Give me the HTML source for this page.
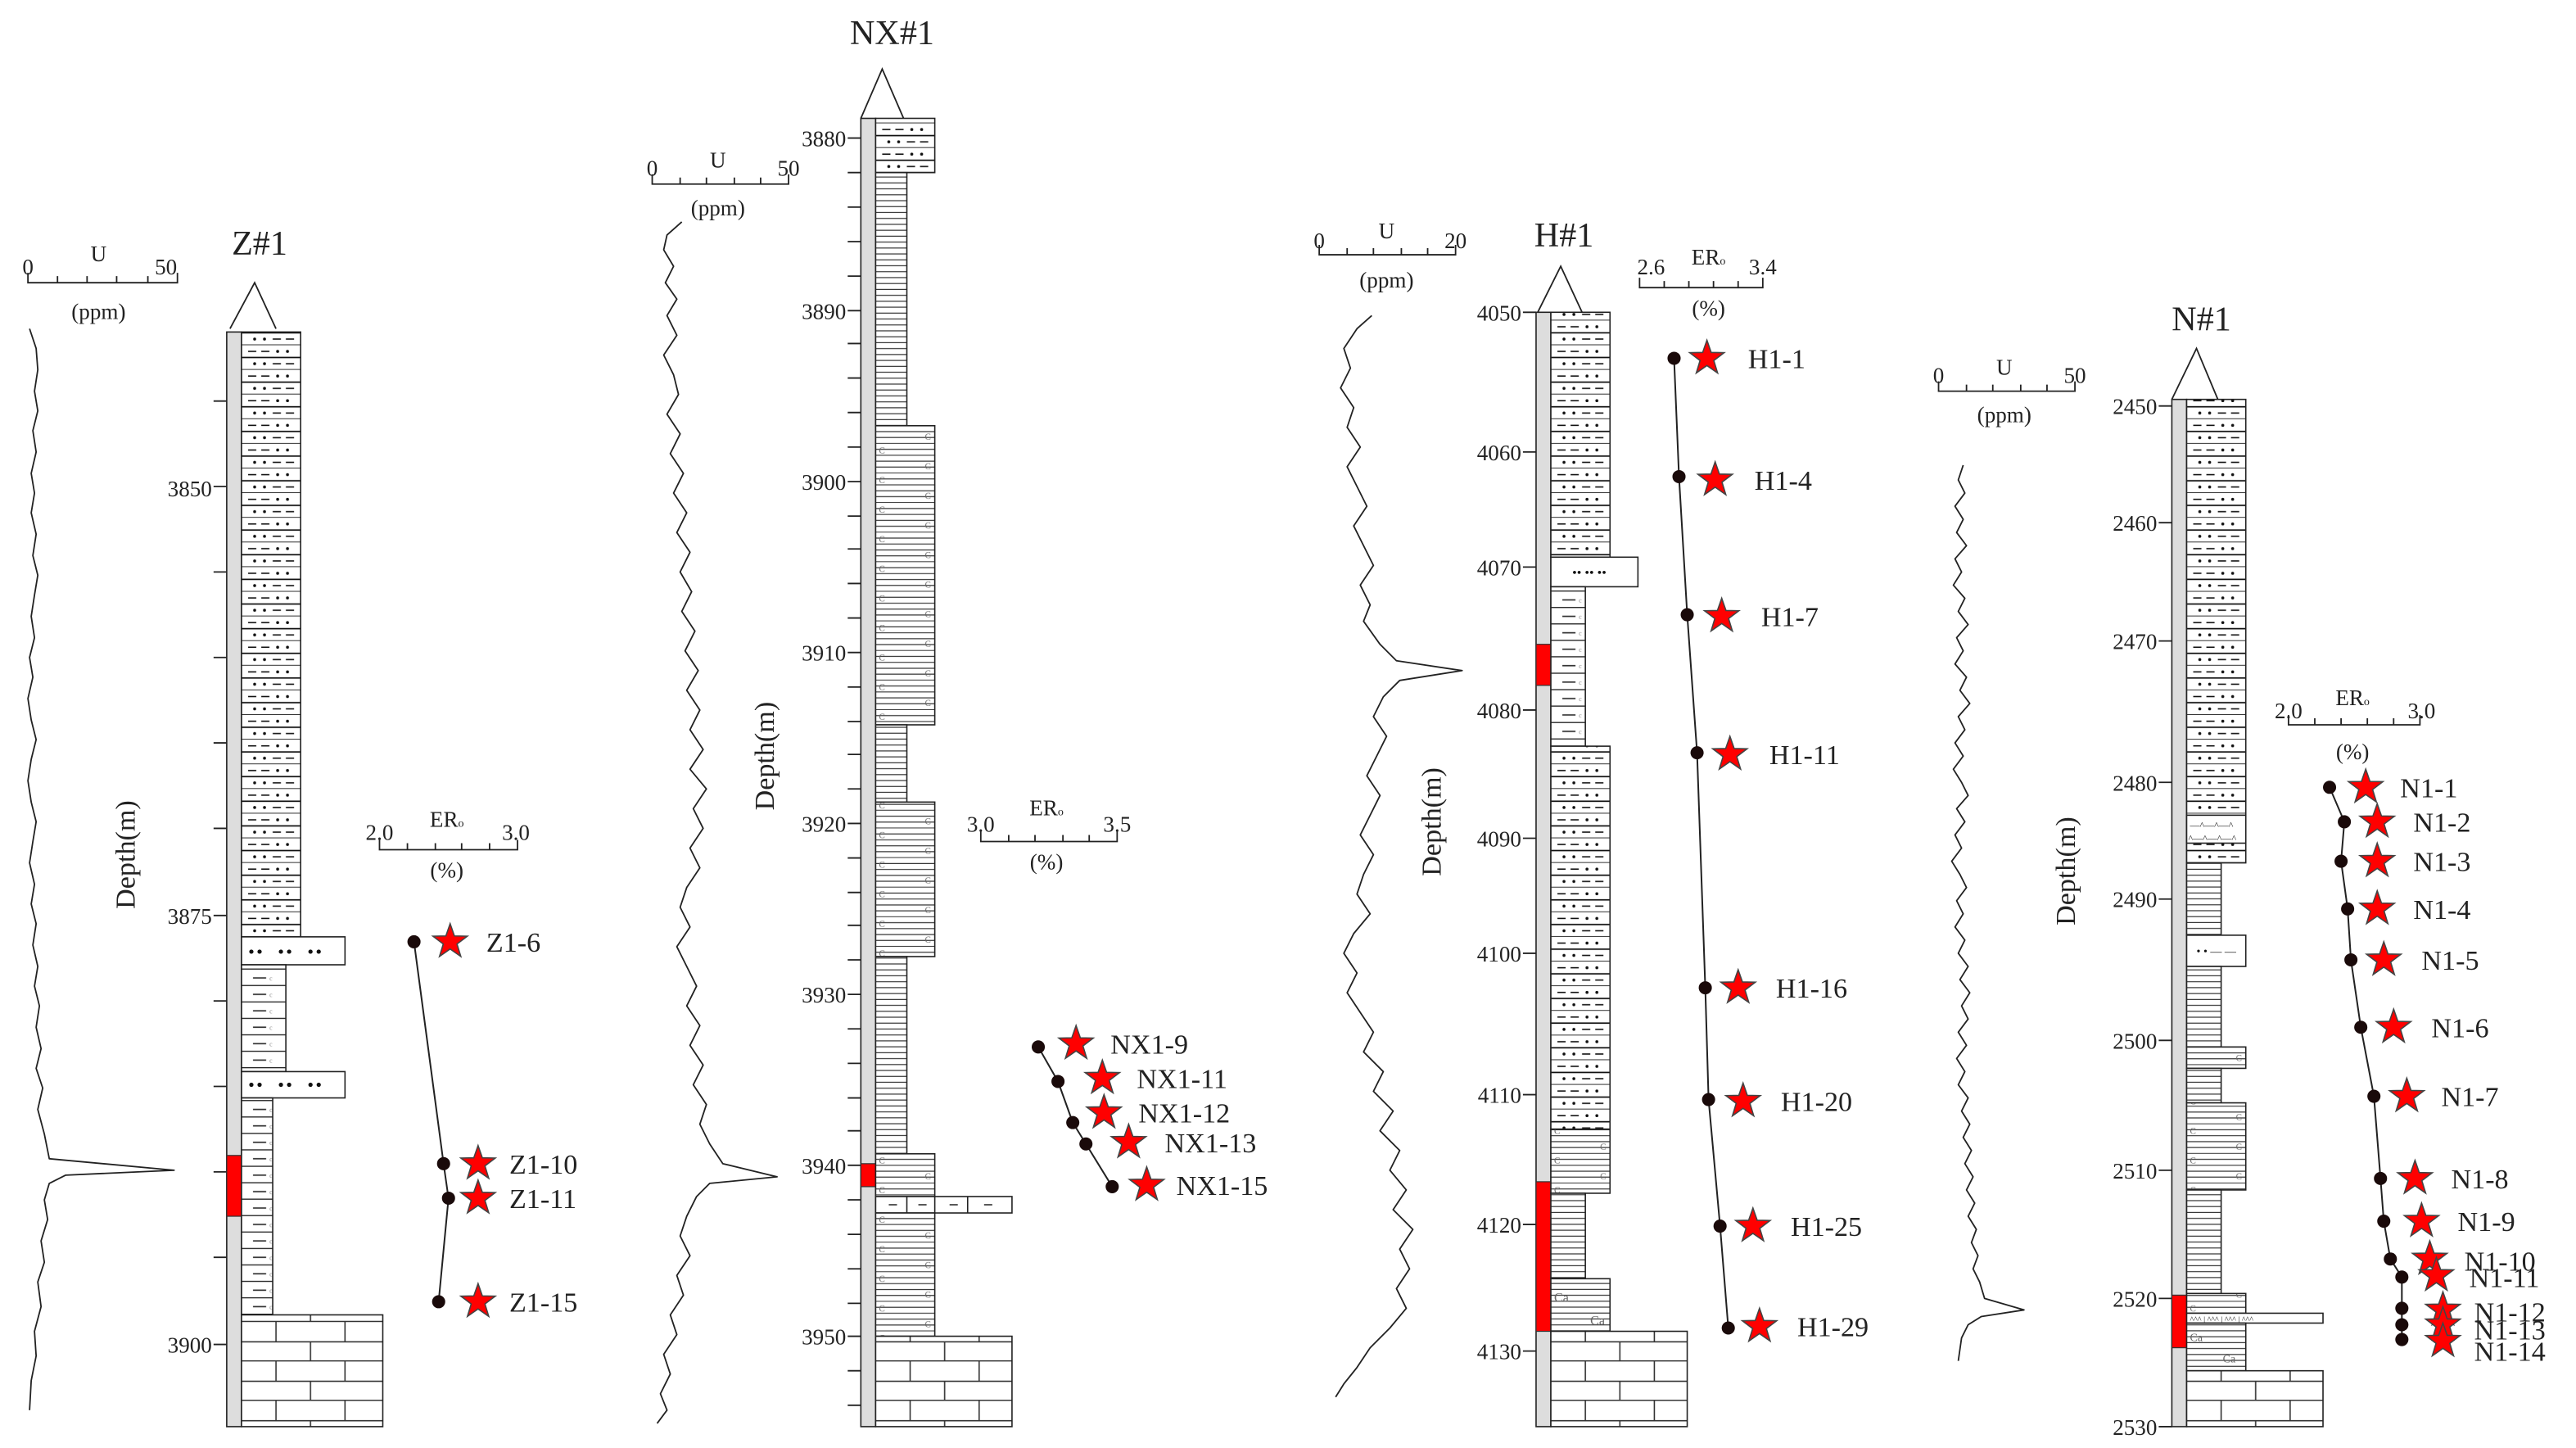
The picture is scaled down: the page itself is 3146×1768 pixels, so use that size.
<!DOCTYPE html>
<html><head><meta charset="utf-8"><style>html,body{margin:0;padding:0;background:#fff}svg{display:block}svg text{font-family:"Liberation Serif",serif}</style></head><body>
<svg xmlns="http://www.w3.org/2000/svg" xmlns:xlink="http://www.w3.org/1999/xlink" width="3146" height="1768" viewBox="0 0 1568 881" preserveAspectRatio="none" fill="#222">
<defs>
<pattern id="silt" width="36" height="15" patternUnits="userSpaceOnUse">
<rect width="36" height="15" fill="#fff"/>
<g stroke="#111" stroke-width="0.8"><line x1="0" y1="7.5" x2="36" y2="7.5"/><line x1="0" y1="15" x2="36" y2="15"/>
<line x1="4" y1="3.8" x2="9" y2="3.8"/><line x1="12" y1="3.8" x2="17" y2="3.8"/><line x1="19" y1="11.3" x2="24" y2="11.3"/><line x1="27" y1="11.3" x2="32" y2="11.3"/></g>
<circle cx="22" cy="3.8" r="0.9" fill="#111"/><circle cx="28" cy="3.8" r="0.9" fill="#111"/><circle cx="8" cy="11.3" r="0.9" fill="#111"/><circle cx="14" cy="11.3" r="0.9" fill="#111"/>
</pattern>
<pattern id="shale" width="40" height="3.6" patternUnits="userSpaceOnUse"><rect width="40" height="3.6" fill="#fff"/><line x1="0" y1="3.3" x2="40" y2="3.3" stroke="#333" stroke-width="0.6"/></pattern>
<pattern id="shaled" width="40" height="10" patternUnits="userSpaceOnUse"><rect width="40" height="10" fill="#fff"/><line x1="0" y1="9.6" x2="40" y2="9.6" stroke="#222" stroke-width="0.7"/><line x1="7" y1="5" x2="15" y2="5" stroke="#333" stroke-width="0.8"/><text x="17" y="6.5" font-size="4" fill="#888">c</text></pattern>
<pattern id="cshale" width="36" height="18" patternUnits="userSpaceOnUse"><rect width="36" height="18" fill="#fff"/><g stroke="#333" stroke-width="0.6"><line x1="0" y1="3.4" x2="36" y2="3.4"/><line x1="0" y1="7" x2="36" y2="7"/><line x1="0" y1="10.6" x2="36" y2="10.6"/><line x1="0" y1="14.2" x2="36" y2="14.2"/><line x1="0" y1="17.8" x2="36" y2="17.8"/></g><text x="2" y="6" font-size="5.5" fill="#666">C</text><text x="30" y="15.5" font-size="5.5" fill="#666">C</text></pattern>
<pattern id="lime" width="84" height="24" patternUnits="userSpaceOnUse"><rect width="84" height="24" fill="#fff"/><g stroke="#333" stroke-width="0.8"><line x1="0" y1="0.4" x2="84" y2="0.4"/><line x1="0" y1="12" x2="84" y2="12"/><line x1="42" y1="0" x2="42" y2="12"/><line x1="21" y1="12" x2="21" y2="24"/><line x1="63" y1="12" x2="63" y2="24"/></g></pattern>
<path id="st" d="M0,-11 L2.59,-3.56 L10.46,-3.4 L4.18,1.36 L6.47,8.9 L0,4.4 L-6.47,8.9 L-4.18,1.36 L-10.46,-3.4 L-2.59,-3.56Z" fill="#f00" stroke="#444" stroke-width="0.8"/>
</defs>

<g stroke="#222" stroke-width="0.9" fill="none">
<path d="M17,166 V172 H108 V166 M35,168 V172 M53,168 V172 M71,168 V172 M90,168 V172"/>
<path d="M397,106 V112 H480 V106 M414,108 V112 M430,108 V112 M447,108 V112 M463,108 V112"/>
<path d="M803,149 V155 H886 V149 M820,151 V155 M836,151 V155 M853,151 V155 M869,151 V155"/>
<path d="M1180,232 V238 H1263 V232 M1197,234 V238 M1213,234 V238 M1230,234 V238 M1246,234 V238"/>
<path d="M231,511 V517 H315 V511 M248,513 V517 M265,513 V517 M281,513 V517 M298,513 V517"/>
<path d="M597,506 V512 H680 V506 M614,508 V512 M630,508 V512 M647,508 V512 M663,508 V512"/>
<path d="M998,169 V175 H1073 V169 M1013,171 V175 M1028,171 V175 M1043,171 V175 M1058,171 V175"/>
<path d="M1393,435 V441 H1473 V435 M1409,437 V441 M1425,437 V441 M1441,437 V441 M1457,437 V441"/>
<g stroke-linejoin="round">
<polyline points="18,200 22,212 23,225 21,238 23,250 20,262 22,275 19,288 21,300 19,312 22,325 20,338 23,350 21,362 19,375 21,388 18,400 20,412 17,425 19,438 22,450 19,462 17,475 19,488 22,500 20,512 18,525 21,538 19,550 22,562 20,575 23,588 21,600 24,612 22,625 25,638 22,650 26,662 23,675 27,690 30,705 106,712 40,715 30,720 27,730 29,742 25,755 27,768 23,780 25,795 21,810 22,825 19,840 18,858"/>
<polyline points="415,135 406,143 404,152 410,162 405,172 412,182 406,192 412,204 404,216 410,228 413,240 406,252 414,264 408,276 416,288 410,300 418,312 412,324 420,336 414,348 421,360 415,372 423,384 417,396 425,408 418,420 426,432 420,444 428,456 420,468 430,480 422,492 428,504 420,516 426,528 418,540 414,552 420,564 412,576 418,588 424,600 418,612 426,624 420,636 428,648 422,660 430,672 426,684 432,696 440,708 473,716 432,720 424,728 418,740 414,752 420,764 412,776 416,788 408,800 412,812 404,824 408,836 402,848 406,858 400,866"/>
<polyline points="835,192 826,200 818,212 822,224 816,236 824,248 820,260 828,272 820,284 826,296 832,308 824,320 830,332 836,344 828,356 834,368 830,378 840,392 850,402 890,408 852,414 842,424 836,436 844,448 838,460 832,472 840,484 834,496 828,508 836,520 830,532 826,544 834,556 824,568 818,580 826,592 820,604 828,616 836,628 830,640 842,652 836,664 848,676 840,688 852,700 846,712 856,724 848,736 860,748 852,760 858,772 850,784 856,796 846,808 834,820 826,832 818,842 813,850"/>
<polyline points="1195,283 1192,292 1196,300 1190,308 1195,316 1191,324 1197,332 1190,340 1194,348 1189,356 1196,364 1192,372 1198,380 1191,388 1195,396 1190,404 1197,412 1193,420 1199,428 1192,436 1196,444 1190,452 1195,460 1189,468 1194,476 1198,484 1191,492 1196,500 1190,508 1194,516 1188,524 1193,532 1197,540 1191,548 1195,556 1190,564 1196,572 1192,580 1198,588 1193,596 1199,604 1194,612 1198,620 1192,628 1197,636 1191,644 1196,652 1192,660 1198,668 1194,676 1199,684 1195,692 1200,700 1196,708 1201,716 1197,724 1202,732 1198,740 1203,748 1200,756 1204,764 1201,772 1205,780 1208,790 1232,797 1206,801 1198,806 1194,814 1192,828"/>
</g>
<path d="M140,200 L155,172 L168,200"/>
<path d="M524,72 L537,42 L550,72"/>
<path d="M936,190 L950,162 L963,190"/>
<path d="M1322,243 L1337,212 L1350,243"/>
<path d="M130,244H138M130,296H138M130,348H138M130,400H138M130,452H138M130,504H138M130,557H138M130,609H138M130,661H138M130,713H138M130,765H138M130,818H138"/>
<path d="M516,84H524M516,105H524M516,126H524M516,147H524M516,168H524M516,189H524M516,209H524M516,230H524M516,251H524M516,272H524M516,293H524M516,314H524M516,334H524M516,355H524M516,376H524M516,397H524M516,418H524M516,439H524M516,459H524M516,480H524M516,501H524M516,522H524M516,543H524M516,563H524M516,584H524M516,605H524M516,626H524M516,647H524M516,668H524M516,688H524M516,709H524M516,730H524M516,751H524M516,772H524M516,793H524M516,813H524M516,834H524M516,855H524"/>
<path d="M927,190H935M927,275H935M927,345H935M927,432H935M927,510H935M927,580H935M927,666H935M927,745H935M927,822H935"/>
<path d="M1314,247H1322M1314,318H1322M1314,390H1322M1314,476H1322M1314,547H1322M1314,633H1322M1314,712H1322M1314,790H1322M1314,868H1322"/>
<polyline points="252,573 270,708 273,729 267,792" stroke-width="1"/>
<polyline points="632,637 644,658 653,683 661,696 677,722" stroke-width="1"/>
<polyline points="1019,218 1022,290 1027,374 1033,458 1038,601 1040,669 1047,746 1052,808" stroke-width="1"/>
<polyline points="1418,479 1427,500 1425,524 1429,553 1431,584 1437,625 1445,667 1449,717 1451,743 1455,766 1462,777 1462,796 1462,806 1462,815" stroke-width="1"/>
</g>

<g fill="#ddd" stroke="#222" stroke-width="0.8">
<rect x="138" y="202" width="9" height="666"/>
<rect x="524" y="72" width="9" height="796"/>
<rect x="935" y="190" width="9" height="678"/>
<rect x="1322" y="243" width="9" height="625"/>
</g>
<g fill="#f00" stroke="#333" stroke-width="0.6">
<rect x="138" y="703" width="9" height="37"/>
<rect x="524" y="708" width="9" height="14"/>
<rect x="935" y="392" width="9" height="25"/>
<rect x="935" y="719" width="9" height="91"/>
<rect x="1322" y="788" width="9" height="32"/>
</g>

<g transform="translate(147,0)" stroke="#222" stroke-width="0.8">
<rect x="0" y="202" width="36" height="368" fill="url(#silt)"/>
<rect x="0" y="570" width="63" height="17" fill="#fff"/>
<rect x="0" y="587" width="27" height="65" fill="url(#shaled)"/>
<rect x="0" y="652" width="63" height="16" fill="#fff"/>
<rect x="0" y="668" width="19" height="132" fill="url(#shaled)"/>
<rect x="0" y="800" width="86" height="68" fill="url(#lime)"/>
<g fill="#111" stroke="none"><circle cx="6" cy="579" r="1.3"/><circle cx="11" cy="579" r="1.3"/><circle cx="24" cy="579" r="1.3"/><circle cx="29" cy="579" r="1.3"/><circle cx="42" cy="579" r="1.3"/><circle cx="47" cy="579" r="1.3"/>
<circle cx="6" cy="660" r="1.3"/><circle cx="11" cy="660" r="1.3"/><circle cx="24" cy="660" r="1.3"/><circle cx="29" cy="660" r="1.3"/><circle cx="42" cy="660" r="1.3"/><circle cx="47" cy="660" r="1.3"/></g>
</g>

<g transform="translate(533,0)" stroke="#222" stroke-width="0.8">
<rect x="0" y="72" width="36" height="33" fill="url(#silt)"/>
<rect x="0" y="105" width="19" height="154" fill="url(#shale)"/>
<rect x="0" y="259" width="36" height="182" fill="url(#cshale)"/>
<rect x="0" y="441" width="19" height="47" fill="url(#shale)"/>
<rect x="0" y="488" width="36" height="94" fill="url(#cshale)"/>
<rect x="0" y="582" width="19" height="120" fill="url(#shale)"/>
<rect x="0" y="702" width="36" height="26" fill="url(#cshale)"/>
<rect x="0" y="728" width="83" height="10" fill="#fff"/>
<path d="M19,728V738M36,728V738M56,728V738M8,733H13M26,733H31M45,733H50M66,733H71"/>
<rect x="0" y="738" width="36" height="75" fill="url(#cshale)"/>
<rect x="0" y="813" width="83" height="55" fill="url(#lime)"/>
</g>

<g transform="translate(944,0)" stroke="#222" stroke-width="0.8">
<rect x="0" y="190" width="36" height="149" fill="url(#silt)"/>
<rect x="0" y="339" width="53" height="18" fill="#fff"/>
<text x="13" y="351" font-size="8" fill="#111" stroke="none">•• •• ••</text>
<rect x="0" y="357" width="21" height="97" fill="url(#shaled)"/>
<rect x="0" y="454" width="36" height="233" fill="url(#silt)"/>
<rect x="0" y="687" width="36" height="39" fill="url(#cshale)"/>
<rect x="0" y="726" width="21" height="52" fill="url(#shale)"/>
<rect x="0" y="778" width="36" height="32" fill="url(#shale)"/>
<text x="2" y="792" font-size="8" fill="#666" stroke="none">Ca</text><text x="24" y="806" font-size="8" fill="#666" stroke="none">Ca</text>
<rect x="0" y="810" width="83" height="58" fill="url(#lime)"/>
</g>

<g transform="translate(1331,0)" stroke="#222" stroke-width="0.8">
<rect x="0" y="243" width="36" height="282" fill="url(#silt)"/>
<rect x="0" y="496" width="36" height="17" fill="#fff"/>
<text x="2" y="504" font-size="6" fill="#111" stroke="none">—^—^—^</text><text x="1" y="512" font-size="6" fill="#111" stroke="none">^—^—^—^</text>
<rect x="0" y="525" width="21" height="44" fill="url(#shale)"/>
<rect x="0" y="569" width="36" height="19" fill="#fff"/>
<text x="6" y="581" font-size="7" fill="#111" stroke="none">• • — —</text>
<rect x="0" y="588" width="21" height="49" fill="url(#shale)"/>
<rect x="0" y="637" width="36" height="13" fill="url(#cshale)"/>
<rect x="0" y="650" width="21" height="21" fill="url(#shale)"/>
<rect x="0" y="671" width="36" height="53" fill="url(#cshale)"/>
<rect x="0" y="724" width="21" height="63" fill="url(#shale)"/>
<rect x="0" y="787" width="36" height="12" fill="url(#cshale)"/>
<rect x="0" y="799" width="83" height="6" fill="#fff"/>
<text x="2" y="804.5" font-size="5" fill="#111" stroke="none">^^^ | ^^^ | ^^^ | ^^^</text>
<rect x="0" y="805" width="36" height="29" fill="url(#shale)"/>
<text x="2" y="816" font-size="7" fill="#666" stroke="none">Ca</text><text x="22" y="829" font-size="7" fill="#666" stroke="none">Ca</text>
<rect x="0" y="834" width="83" height="34" fill="url(#lime)"/>
</g>

<g fill="#1a0a0a">
<circle cx="252" cy="573" r="4"/><circle cx="270" cy="708" r="4"/><circle cx="273" cy="729" r="4"/><circle cx="267" cy="792" r="4"/>
<circle cx="632" cy="637" r="4"/><circle cx="644" cy="658" r="4"/><circle cx="653" cy="683" r="4"/><circle cx="661" cy="696" r="4"/><circle cx="677" cy="722" r="4"/>
<circle cx="1019" cy="218" r="4"/><circle cx="1022" cy="290" r="4"/><circle cx="1027" cy="374" r="4"/><circle cx="1033" cy="458" r="4"/><circle cx="1038" cy="601" r="4"/><circle cx="1040" cy="669" r="4"/><circle cx="1047" cy="746" r="4"/><circle cx="1052" cy="808" r="4"/>
<circle cx="1418" cy="479" r="4"/><circle cx="1427" cy="500" r="4"/><circle cx="1425" cy="524" r="4"/><circle cx="1429" cy="553" r="4"/><circle cx="1431" cy="584" r="4"/><circle cx="1437" cy="625" r="4"/><circle cx="1445" cy="667" r="4"/><circle cx="1449" cy="717" r="4"/><circle cx="1451" cy="743" r="4"/><circle cx="1455" cy="766" r="4"/><circle cx="1462" cy="777" r="4"/><circle cx="1462" cy="796" r="4"/><circle cx="1462" cy="806" r="4"/><circle cx="1462" cy="815" r="4"/>
</g>
<use xlink:href="#st" x="274" y="573"/><use xlink:href="#st" x="291" y="708"/><use xlink:href="#st" x="291" y="729"/><use xlink:href="#st" x="291" y="792"/>
<use xlink:href="#st" x="655" y="635"/><use xlink:href="#st" x="671" y="656"/><use xlink:href="#st" x="672" y="677"/><use xlink:href="#st" x="687" y="695"/><use xlink:href="#st" x="698" y="721"/>
<use xlink:href="#st" x="1039" y="218"/><use xlink:href="#st" x="1044" y="292"/><use xlink:href="#st" x="1048" y="375"/><use xlink:href="#st" x="1053" y="459"/><use xlink:href="#st" x="1058" y="601"/><use xlink:href="#st" x="1061" y="670"/><use xlink:href="#st" x="1067" y="746"/><use xlink:href="#st" x="1071" y="807"/>
<use xlink:href="#st" x="1440" y="479"/><use xlink:href="#st" x="1447" y="500"/><use xlink:href="#st" x="1447" y="524"/><use xlink:href="#st" x="1447" y="553"/><use xlink:href="#st" x="1451" y="584"/><use xlink:href="#st" x="1457" y="625"/><use xlink:href="#st" x="1465" y="667"/><use xlink:href="#st" x="1470" y="717"/><use xlink:href="#st" x="1474" y="743"/><use xlink:href="#st" x="1479" y="766"/><use xlink:href="#st" x="1483" y="776"/><use xlink:href="#st" x="1487" y="797"/><use xlink:href="#st" x="1487" y="806"/><use xlink:href="#st" x="1487" y="816"/>

<g font-size="17">
<text x="296" y="579">Z1-6</text><text x="310" y="714">Z1-10</text><text x="310" y="735">Z1-11</text><text x="310" y="798">Z1-15</text>
<text x="676" y="641">NX1-9</text><text x="692" y="662">NX1-11</text><text x="693" y="683">NX1-12</text><text x="709" y="701">NX1-13</text><text x="716" y="727">NX1-15</text>
<text x="1064" y="224">H1-1</text><text x="1068" y="298">H1-4</text><text x="1072" y="381">H1-7</text><text x="1077" y="465">H1-11</text><text x="1081" y="607">H1-16</text><text x="1084" y="676">H1-20</text><text x="1090" y="752">H1-25</text><text x="1094" y="813">H1-29</text>
<text x="1461" y="485">N1-1</text><text x="1469" y="506">N1-2</text><text x="1469" y="530">N1-3</text><text x="1469" y="559">N1-4</text><text x="1474" y="590">N1-5</text><text x="1480" y="631">N1-6</text><text x="1486" y="673">N1-7</text><text x="1492" y="723">N1-8</text><text x="1496" y="749">N1-9</text><text x="1500" y="773">N1-10</text><text x="1503" y="783">N1-11</text><text x="1506" y="804">N1-12</text><text x="1506" y="815">N1-13</text><text x="1506" y="828">N1-14</text>
</g>

<g font-size="21" text-anchor="middle">
<text x="158" y="155">Z#1</text><text x="543" y="27">NX#1</text><text x="952" y="150">H#1</text><text x="1340" y="201">N#1</text>
</g>

<g font-size="13.5" text-anchor="middle">
<text x="17" y="167">0</text><text x="101" y="167">50</text><text x="60" y="159">U</text><text x="60" y="194">(ppm)</text>
<text x="397" y="107">0</text><text x="480" y="107">50</text><text x="437" y="102">U</text><text x="437" y="131">(ppm)</text>
<text x="803" y="151">0</text><text x="886" y="151">20</text><text x="844" y="145">U</text><text x="844" y="175">(ppm)</text>
<text x="1180" y="233">0</text><text x="1263" y="233">50</text><text x="1220" y="228">U</text><text x="1220" y="257">(ppm)</text>
<text x="231" y="511">2.0</text><text x="314" y="511">3.0</text><text x="272" y="503">ER<tspan font-size="7">o</tspan></text><text x="272" y="534">(%)</text>
<text x="597" y="506">3.0</text><text x="680" y="506">3.5</text><text x="637" y="496">ER<tspan font-size="7">o</tspan></text><text x="637" y="529">(%)</text>
<text x="1005" y="167">2.6</text><text x="1073" y="167">3.4</text><text x="1040" y="161">ER<tspan font-size="7">o</tspan></text><text x="1040" y="192">(%)</text>
<text x="1393" y="437">2.0</text><text x="1474" y="437">3.0</text><text x="1432" y="429">ER<tspan font-size="7">o</tspan></text><text x="1432" y="462">(%)</text>
</g>

<g font-size="13.5" text-anchor="end">
<text x="129" y="302">3850</text><text x="129" y="562">3875</text><text x="129" y="823">3900</text>
<text x="515" y="89">3880</text><text x="515" y="194">3890</text><text x="515" y="298">3900</text><text x="515" y="402">3910</text><text x="515" y="506">3920</text><text x="515" y="610">3930</text><text x="515" y="714">3940</text><text x="515" y="818">3950</text>
<text x="926" y="195">4050</text><text x="926" y="280">4060</text><text x="926" y="350">4070</text><text x="926" y="437">4080</text><text x="926" y="515">4090</text><text x="926" y="585">4100</text><text x="926" y="671">4110</text><text x="926" y="750">4120</text><text x="926" y="827">4130</text>
<text x="1313" y="252">2450</text><text x="1313" y="323">2460</text><text x="1313" y="395">2470</text><text x="1313" y="481">2480</text><text x="1313" y="552">2490</text><text x="1313" y="638">2500</text><text x="1313" y="717">2510</text><text x="1313" y="795">2520</text><text x="1313" y="873">2530</text>
</g>
<g font-size="17" text-anchor="middle">
<text transform="translate(82,520) rotate(-90)">Depth(m)</text>
<text transform="translate(471,460) rotate(-90)">Depth(m)</text>
<text transform="translate(877,500) rotate(-90)">Depth(m)</text>
<text transform="translate(1263,530) rotate(-90)">Depth(m)</text>
</g>
</svg>
</body></html>
